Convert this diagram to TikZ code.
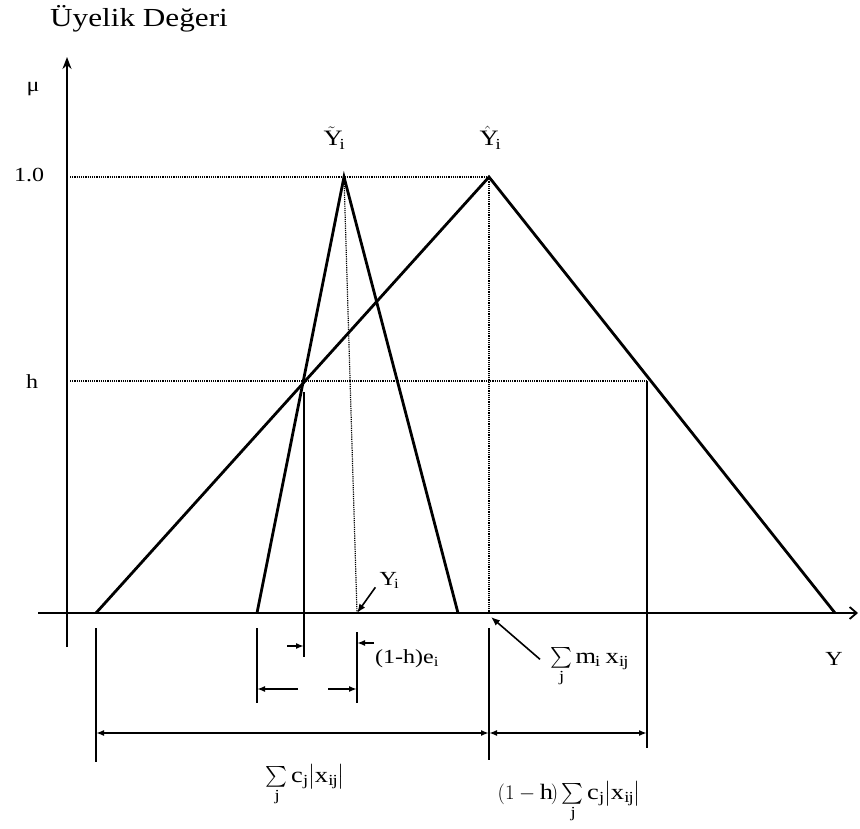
\documentclass[tikz,border=0pt]{standalone}
\usepackage{exscale}
\usepackage{fontspec}
\setmainfont{Liberation Serif}[FakeStretch=1.2]
\usetikzlibrary{arrows.meta}

\begin{document}
\begin{tikzpicture}[
		x=1pt, y=-1pt,
		axis/.style={line width=1.8pt},
		tri/.style={line width=2.8pt, line join=miter},
		guide/.style={densely dotted, line width=1.2pt},
		tick/.style={line width=1.8pt},
		dim/.style={line width=1.6pt, -{Latex[length=8pt,width=6pt]}},
		twodim/.style={line width=1.6pt, {Latex[length=8pt,width=6pt]}-{Latex[length=8pt,width=6pt]}},
		ptr/.style={line width=1.6pt, -{Latex[length=9pt,width=7pt]}},
		lbl/.style={inner sep=0pt, font=\fontsize{20}{22}\selectfont},
		sumlbl/.style={lbl, font=\fontsize{22}{24}\selectfont}
		]
		\useasboundingbox (0,0) rectangle (860,829);
		
		% Axes and key points
		\coordinate (ybot) at (67,647);
		\coordinate (ytop) at (67,57);
		\coordinate (xlft) at (38,613);
		\coordinate (xrgt) at (858,613);
		\coordinate (nL) at (257,613);
		\coordinate (nP) at (344,177);
		\coordinate (nR) at (458,613);
		\coordinate (wL) at (96,613);
		\coordinate (wP) at (489,177);
		\coordinate (wR) at (835,613);
		\coordinate (Yi) at (357,613);
		\coordinate (M) at (489,613);
		\coordinate (hA) at (304,381);
		\coordinate (hB) at (647,381);
		
		\draw[axis, -{Stealth[length=12pt,width=9pt]}] (ybot) -- (ytop);
		\draw[axis, -{Straight Barb[length=7pt,width=12pt]}] (xlft) -- (xrgt);
		
		% Guides
		\draw[guide] (70,177) -- (wP);
		\draw[guide] (70,381) -- (hB);
		\draw[guide] (nP) -- (Yi);
		\draw[guide] (wP) -- (M);
		
		% Membership functions
		\draw[tri] (nL) -- (nP) -- (nR);
		\draw[tri] (wL) -- (wP) -- (wR);
		
		% Vertical marks
		\draw[tick] (304,392) -- (304,657);
		\draw[tick] (hB) -- (647,748);
		\draw[tick] (489,628) -- (489,760);
		\draw[tick] (96,628) -- (96,762);
		\draw[tick] (257,628) -- (257,703);
		\draw[tick] (357,632) -- (357,703);
		
		% Dimensions
		\draw[dim] (287,646) -- (304,646);
		\draw[dim] (374,643) -- (357,643);
		\draw[dim] (298,689) -- (257,689);
		\draw[dim] (328,689) -- (357,689);
		\draw[twodim] (96,733) -- (489,733);
		\draw[twodim] (489,733) -- (647,733);
		
		% Labels
		\node[lbl, anchor=base, font=\fontsize{26}{28}\selectfont] (title) at (139,27) {Üyelik Değeri};
		\node[lbl, anchor=base] (mu) at (33,92) {μ};
		\node[lbl, anchor=base] (one) at (29,182) {1.0};
		\node[lbl, anchor=base] (hlab) at (32,388) {h};
		\node[lbl, anchor=base, font=\fontsize{22}{24}\selectfont] (ytil) at (334,146) {$\tilde{\mathrm{Y}}_{\mathrm{i}}$};
		\node[lbl, anchor=base, font=\fontsize{22}{24}\selectfont] (yhat) at (490,146) {$\hat{\mathrm{Y}}_{\mathrm{i}}$};
		\node[lbl, anchor=base] (yilab) at (389,585) {$\mathrm{Y}_{\mathrm{i}}$};
		\node[lbl, anchor=base west] (eilab) at (375,663) {(1-h)e$_{\mathrm{i}}$};
		\node[sumlbl, anchor=base west] (mlab) at (550,663) {$\sum\limits_{\mathrm{j}}\mathrm{m}_{\,\mathrm{i}}\;\mathrm{x}_{\,\mathrm{ij}}$};
		\node[lbl, anchor=base] (ylab) at (834,665) {Y};
		\node[sumlbl, anchor=base] (clab) at (305,782) {$\sum\limits_{\mathrm{j}}\mathrm{c}_{\,\mathrm{j}}\bigl|\mathrm{x}_{\,\mathrm{ij}}\bigr|$};
		\node[sumlbl, anchor=base] (hclab) at (569,799) {$(1-\mathrm{h})\sum\limits_{\mathrm{j}}\mathrm{c}_{\,\mathrm{j}}\bigl|\mathrm{x}_{\,\mathrm{ij}}\bigr|$};
		
		% Pointers to the axis
		\draw[ptr] ([xshift=-4pt,yshift=1pt]yilab.south west) -- (Yi);
		\draw[ptr] ([xshift=-10pt,yshift=8pt]mlab.west) -- ([xshift=2pt,yshift=-4pt]M);
		
	\end{tikzpicture}
\end{document}
